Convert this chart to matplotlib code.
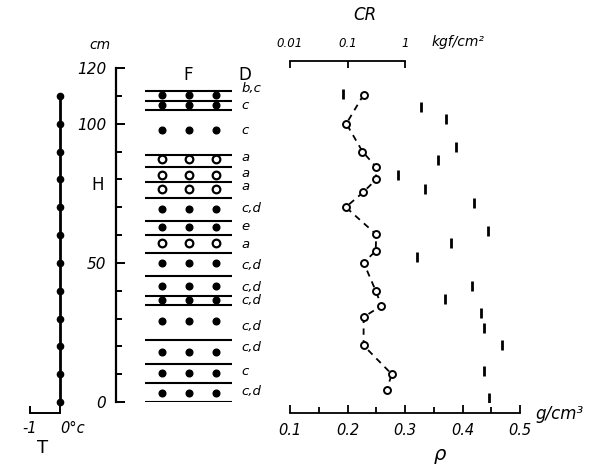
import matplotlib
matplotlib.use("Agg")
import matplotlib.pyplot as plt
import numpy as np

# ---------------- data ----------------
# Temperature profile (deg C) vs height H (cm)
t_height = [0, 10, 20, 30, 40, 50, 60, 70, 80, 90, 100, 110]
t_value = [0, 0, 0, 0, 0, 0, 0, 0, 0, 0, 0, 0]

# Snow layer boundaries (cm)
layer_bounds = [111.6, 108, 105, 88.8, 84.6, 79.2, 73.3, 64.9, 60.1,
                53.7, 45.1, 38.1, 34.9, 22.3, 13.7, 6.7, 0]
# Grain-form rows (F): height and type (filled / open)
f_height = [110.4, 106.6, 97.8, 87.3, 81.7, 76.5, 69.4, 62.7, 57.1,
            50.1, 41.7, 36.7, 29.2, 18.1, 10.3, 3.1]
f_open = [False, False, False, True, True, True, False, False, True,
          False, False, False, False, False, False, False]
# Grain-size class (D) labels
d_height = [112.5, 106.5, 97.5, 88, 82, 77.3, 69.5, 63, 56.5,
            49, 41.3, 36.4, 27, 19.5, 11, 3.6]
d_label = ["b,c", "c", "c", "a", "a", "a", "c,d", "e", "a",
           "c,d", "c,d", "c,d", "c,d", "c,d", "c", "c,d"]

# Density rho (g/cm3)
rho_height = [110.4, 100, 90, 84.6, 80, 75.3, 70, 60.2, 54.2, 50.1,
              40, 34.6, 30.5, 20.3, 10, 4.3]
rho_value = [0.228, 0.198, 0.226, 0.249, 0.25, 0.227, 0.197, 0.25, 0.249,
             0.228, 0.249, 0.259, 0.228, 0.228, 0.277, 0.268]

# Compressive strength CR (kgf/cm2)
cr_height = [110.5, 106, 101.5, 91.5, 87, 81.5, 76.5, 71.5, 61.5, 57,
             52, 41.5, 37, 32, 26.5, 20.5, 11, 1.5]
cr_value = [0.085, 1.9, 5.2, 7.7, 3.7, 0.75, 2.2, 16, 28, 6.2,
            1.6, 14.5, 5.0, 21, 24, 49, 24, 29]

h_major = [0, 50, 100, 120]
h_major_labels = ["0", "50", "100", "120"]
rho_ticks = [0.1, 0.2, 0.3, 0.4, 0.5]
rho_tick_labels = ["0.1", "0.2", "0.3", "0.4", "0.5"]
cr_ticks = [0.01, 0.1, 1]
cr_tick_labels = ["0.01", "0.1", "1"]

# ---------------- layout ----------------
W, Hpx = 605, 467
fig = plt.figure(figsize=(W / 100, Hpx / 100), dpi=100)
fig.patch.set_facecolor("white")


def fx(px):
    return px / W


bottom = (Hpx - 402) / Hpx
height = (402 - 68) / Hpx
PX = 72 / 100  # points per pixel
ita = dict(style="italic", family="DejaVu Sans")


def clean(ax):
    ax.set_facecolor("none")
    for s in ax.spines.values():
        s.set_visible(False)
    ax.set_ylim(0, 120)
    ax.set_yticks([])
    ax.set_xticks([])


# ---- Temperature column ----
ax_t = fig.add_axes([fx(30), bottom, fx(30), height])
clean(ax_t)
ax_t.set_xlim(-1, 0)
ax_t.plot(t_value, t_height, color="black", lw=2, marker="o", ms=4.5,
          clip_on=False)
ax_t.spines["bottom"].set_visible(True)
ax_t.spines["bottom"].set_position(("outward", 11 * PX))
ax_t.spines["bottom"].set_bounds(-1, 0)
ax_t.spines["bottom"].set_linewidth(1.4)
ax_t.set_xticks([-1, 0])
ax_t.set_xticklabels(["-1", "0°c"], fontsize=10.5, **ita)
ax_t.get_xticklabels()[1].set_horizontalalignment("left")
ax_t.tick_params(axis="x", direction="in", length=5, width=1.4, pad=6)
fig.text(fx(43), 1 - 448 / Hpx, "T", fontsize=13, ha="center", va="center")

# ---- H axis ----
ax_h = fig.add_axes([fx(116), bottom, fx(10), height])
clean(ax_h)
ax_h.spines["left"].set_visible(True)
ax_h.spines["left"].set_linewidth(1.6)
ax_h.spines["left"].set_bounds(0, 120)
ax_h.set_yticks(h_major)
ax_h.set_yticklabels(h_major_labels, fontsize=11, **ita)
ax_h.set_yticks(np.arange(10, 120, 10), minor=True)
ax_h.tick_params(axis="y", which="major", direction="in", length=6.5,
                 width=1.4, pad=7)
ax_h.tick_params(axis="y", which="minor", direction="in", length=4.5,
                 width=1.4)
fig.text(fx(100), 1 - 45 / Hpx, "cm", fontsize=10, ha="center", va="center",
         **ita)
fig.text(fx(98), 1 - 185 / Hpx, "H", fontsize=12, ha="center", va="center")

# ---- F / D column ----
ax_f = fig.add_axes([fx(145), bottom, fx(87), height])
clean(ax_f)
ax_f.set_xlim(-0.63, 2.59)
ax_f.hlines(layer_bounds, -0.63, 2.59, color="black", lw=1.5)
cols = [0, 1, 2]
for hh, op in zip(f_height, f_open):
    xs = cols
    ys = [hh] * 3
    if op:
        ax_f.plot(xs, ys, ls="none", marker="o", ms=5.5, mfc="white",
                  mec="black", mew=1.6)
    else:
        ax_f.plot(xs, ys, ls="none", marker="o", ms=4.8, color="black")
for hh, lab in zip(d_height, d_label):
    ax_f.text(2.95, hh, lab, fontsize=9.5, ha="left", va="center",
              clip_on=False, **ita)
ax_f.text(0.96, 117.6, "F", fontsize=12, ha="center", va="center",
          clip_on=False)
ax_f.text(3.07, 117.6, "D", fontsize=12, ha="center", va="center",
          clip_on=False)

# ---- density / CR panel ----
ax_r = fig.add_axes([fx(290), bottom, fx(230), height])
clean(ax_r)
ax_r.set_xlim(0.1, 0.5)
ax_r.plot(rho_value, rho_height, color="black", lw=1.3, ls=(0, (3.5, 3)),
          marker="o", ms=5, mfc="white", mec="black", mew=1.4)
ax_r.spines["bottom"].set_visible(True)
ax_r.spines["bottom"].set_position(("outward", 11 * PX))
ax_r.spines["bottom"].set_bounds(0.1, 0.5)
ax_r.spines["bottom"].set_linewidth(1.3)
ax_r.set_xticks(rho_ticks)
ax_r.set_xticklabels(rho_tick_labels, fontsize=10.5, **ita)
ax_r.set_xticks(np.arange(0.15, 0.5, 0.1), minor=True)
ax_r.tick_params(axis="x", which="major", direction="in", length=5.5,
                 width=1.3, pad=7)
ax_r.tick_params(axis="x", which="minor", direction="in", length=4,
                 width=1.3)
fig.text(fx(535), 1 - 414 / Hpx, "g/cm³", fontsize=12, ha="left",
         va="center", **ita)
fig.text(fx(440), 1 - 455 / Hpx, "ρ", fontsize=14, ha="center",
         va="center", **ita)

ax_c = ax_r.twiny()
clean(ax_c)
ax_c.set_xscale("log")
ax_c.set_xlim(0.01, 100)
ax_c.plot(cr_value, cr_height, ls="none", marker="|", ms=6.5, mew=2,
          color="black")
ax_c.spines["top"].set_visible(True)
ax_c.spines["top"].set_position(("outward", 7 * PX))
ax_c.spines["top"].set_bounds(0.01, 1)
ax_c.spines["top"].set_linewidth(1.3)
ax_c.set_xticks(cr_ticks)
ax_c.set_xticklabels(cr_tick_labels, fontsize=8.5, **ita)
ax_c.xaxis.set_minor_locator(matplotlib.ticker.NullLocator())
ax_c.tick_params(axis="x", which="major", direction="in", length=5,
                 width=1.3, pad=8, top=True, labeltop=True, bottom=False,
                 labelbottom=False)
fig.text(fx(432), 1 - 42 / Hpx, "kgf/cm²", fontsize=10, ha="left",
         va="center", **ita)
fig.text(fx(365), 1 - 15 / Hpx, "CR", fontsize=12, ha="center",
         va="center", **ita)

fig.savefig("out.png", dpi=100, facecolor="white")
